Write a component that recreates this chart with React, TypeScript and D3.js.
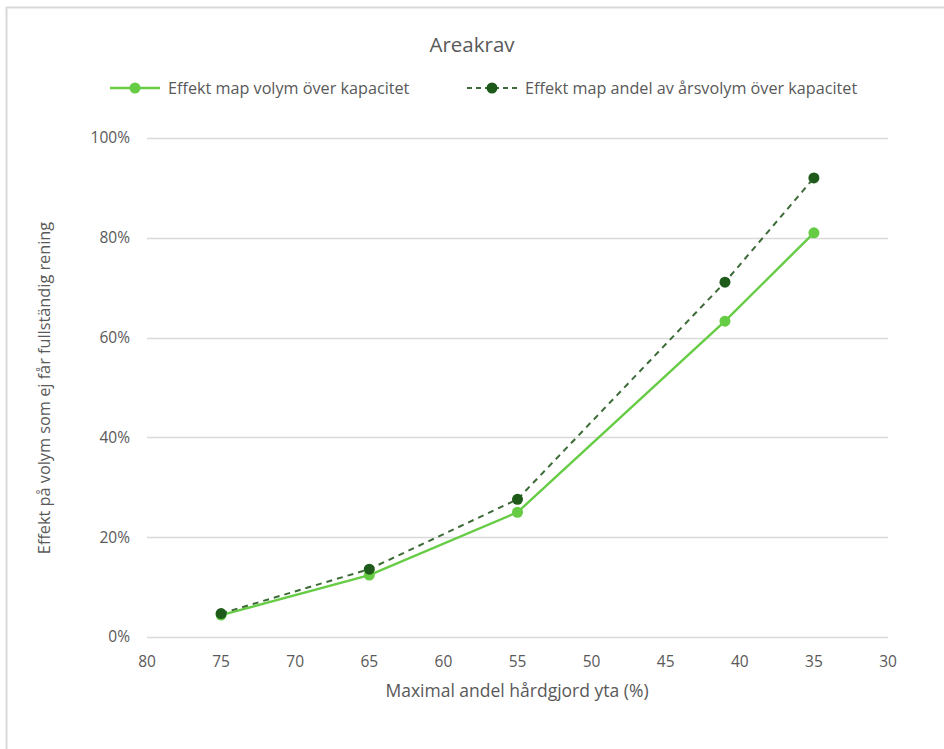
import React, { useEffect, useRef } from "react";
import * as d3 from "d3";

// Maximal andel hårdgjord yta (%) per scenario
const hardArea = [75, 65, 55, 41, 35];
// Effekt map volym över kapacitet (andel)
const volymOverKapacitet = [0.044, 0.124, 0.25, 0.633, 0.81];
// Effekt map andel av årsvolym över kapacitet (andel)
const arsvolymOverKapacitet = [0.047, 0.136, 0.276, 0.711, 0.92];

const xTicks = [80, 75, 70, 65, 60, 55, 50, 45, 40, 35, 30];
const yTicks = [0, 0.2, 0.4, 0.6, 0.8, 1.0];

const seriesNames = [
  "Effekt map volym över kapacitet",
  "Effekt map andel av årsvolym över kapacitet",
];

const W = 944;
const H = 749;
const FONT = "'Open Sans', 'Noto Sans', sans-serif";
const TEXT = "#595959";
const GRID = "#d9d9d9";
const LIGHT = "#66cc44";
const DARK = "#1e5a19";
const DARK_LINE = "#3d6b38";

export default function App() {
  const ref = useRef<SVGSVGElement>(null);

  useEffect(() => {
    const svg = d3.select(ref.current);
    svg.selectAll("*").remove();

    const x = d3.scaleLinear().domain([80, 30]).range([147, 888]);
    const y = d3.scaleLinear().domain([0, 1]).range([637, 138]);

    // outer frame edges
    svg.append("rect").attr("x", 0).attr("y", 0).attr("width", W).attr("height", H).attr("fill", "#fff");
    svg.append("line").attr("x1", 6).attr("x2", W).attr("y1", 7.5).attr("y2", 7.5).attr("stroke", "#d9d9d9").attr("stroke-width", 2);
    svg.append("line").attr("x1", 6.5).attr("x2", 6.5).attr("y1", 7).attr("y2", H).attr("stroke", "#d9d9d9").attr("stroke-width", 2);

    // gridlines
    svg
      .append("g")
      .selectAll("line")
      .data(yTicks)
      .join("line")
      .attr("x1", x(80))
      .attr("x2", x(30))
      .attr("y1", (d) => Math.round(y(d)) + 0.5)
      .attr("y2", (d) => Math.round(y(d)) + 0.5)
      .attr("stroke", GRID)
      .attr("stroke-width", 1.3);

    // y tick labels
    const pct = d3.format(".0%");
    svg
      .append("g")
      .selectAll("text")
      .data(yTicks)
      .join("text")
      .attr("x", 130)
      .attr("y", (d) => y(d))
      .attr("dy", "0.35em")
      .attr("text-anchor", "end")
      .attr("font-family", FONT)
      .attr("font-size", 15.5)
      .attr("fill", TEXT)
      .text((d) => pct(d));

    // x tick labels
    svg
      .append("g")
      .selectAll("text")
      .data(xTicks)
      .join("text")
      .attr("x", (d) => x(d))
      .attr("y", 667)
      .attr("text-anchor", "middle")
      .attr("font-family", FONT)
      .attr("font-size", 15.5)
      .attr("fill", TEXT)
      .text((d) => String(d));

    // axis titles
    svg
      .append("text")
      .attr("x", 517)
      .attr("y", 697)
      .attr("text-anchor", "middle")
      .attr("font-family", FONT)
      .attr("font-size", 17.5)
      .attr("fill", TEXT)
      .text("Maximal andel hårdgjord yta (%)");

    svg
      .append("text")
      .attr("transform", "translate(50,388) rotate(-90)")
      .attr("text-anchor", "middle")
      .attr("font-family", FONT)
      .attr("font-size", 16.3)
      .attr("fill", TEXT)
      .text("Effekt på volym som ej får fullständig rening");

    // title
    svg
      .append("text")
      .attr("x", 472)
      .attr("y", 52)
      .attr("text-anchor", "middle")
      .attr("font-family", FONT)
      .attr("font-size", 20.5)
      .attr("fill", TEXT)
      .text("Areakrav");

    const line = d3
      .line<number>()
      .x((_, i) => x(hardArea[i]))
      .y((d) => y(d));

    // light series
    svg
      .append("path")
      .attr("d", line(volymOverKapacitet))
      .attr("fill", "none")
      .attr("stroke", LIGHT)
      .attr("stroke-width", 2.4);
    svg
      .append("g")
      .selectAll("circle")
      .data(volymOverKapacitet)
      .join("circle")
      .attr("cx", (_, i) => x(hardArea[i]))
      .attr("cy", (d) => y(d))
      .attr("r", 5.5)
      .attr("fill", LIGHT);

    // dark dashed series
    svg
      .append("path")
      .attr("d", line(arsvolymOverKapacitet))
      .attr("fill", "none")
      .attr("stroke", DARK_LINE)
      .attr("stroke-width", 2)
      .attr("stroke-dasharray", "6,5");
    svg
      .append("g")
      .selectAll("circle")
      .data(arsvolymOverKapacitet)
      .join("circle")
      .attr("cx", (_, i) => x(hardArea[i]))
      .attr("cy", (d) => y(d))
      .attr("r", 5.5)
      .attr("fill", DARK);

    // legend
    const legend = [
      { x0: 110, name: seriesNames[0], stroke: LIGHT, dot: LIGHT, dash: null, w: 2.4 },
      { x0: 467, name: seriesNames[1], stroke: DARK_LINE, dot: DARK, dash: "5,4", w: 2 },
    ];
    const lg = svg.append("g");
    legend.forEach((l) => {
      lg.append("line")
        .attr("x1", l.x0)
        .attr("x2", l.x0 + 50)
        .attr("y1", 88)
        .attr("y2", 88)
        .attr("stroke", l.stroke)
        .attr("stroke-width", l.w)
        .attr("stroke-dasharray", l.dash);
      lg.append("circle").attr("cx", l.x0 + 25).attr("cy", 88).attr("r", 5.5).attr("fill", l.dot);
      lg.append("text")
        .attr("x", l.x0 + 58)
        .attr("y", 88)
        .attr("dy", "0.35em")
        .attr("font-family", FONT)
        .attr("font-size", 16.2)
        .attr("fill", TEXT)
        .text(l.name);
    });
  }, []);

  return <svg ref={ref} width={W} height={H} style={{ display: "block", position: "absolute", left: 0, top: 0 }} />;
}
